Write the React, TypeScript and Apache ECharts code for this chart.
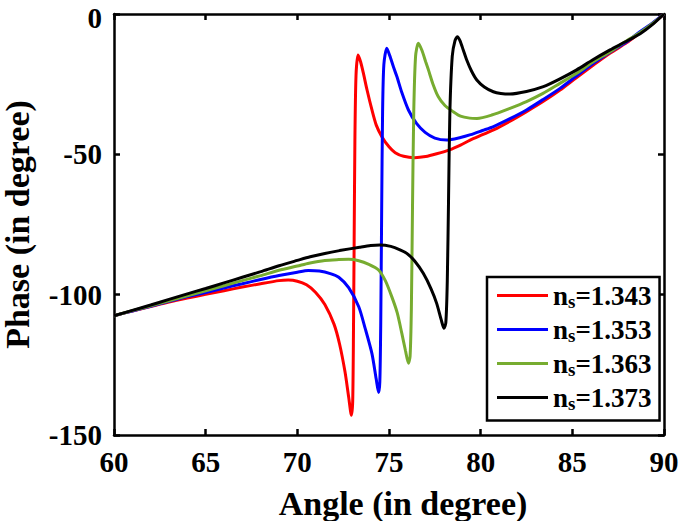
import React, { useEffect, useRef } from "react";
import * as echarts from "echarts";

const legendNames = ["ns=1.343", "ns=1.353", "ns=1.363", "ns=1.373"];
const legendValues = ["1.343", "1.353", "1.363", "1.373"];
const colors = ["#ff0000", "#0000ff", "#77ac30", "#000000"];

const xTicks = [60, 65, 70, 75, 80, 85, 90];
const yTicks = [-150, -100, -50, 0];

// [angle, phase]
const red343: [number, number][] = [
  [60, -107.5], [61, -105.8], [62, -104.2], [63, -102.6], [64, -101.2], [65, -99.9],
  [66, -98.6], [67, -97.3], [68, -96.1], [69, -95.0], [69.5, -94.8], [70, -95.2],
  [70.5, -96.5], [71, -99.2], [71.5, -103.5], [72, -110.5], [72.3, -117.5], [72.6, -127.5],
  [72.8, -136.5], [72.95, -143], [73.02, -138], [73.06, -115], [73.1, -80], [73.14, -45],
  [73.2, -22], [73.31, -14.6], [73.45, -17], [73.6, -21], [73.8, -27], [74.07, -34.2],
  [74.3, -39.5], [74.61, -43.7], [75, -47.3], [75.34, -49.4], [75.8, -50.7], [76.4, -51.2],
  [77, -50.8], [77.6, -49.8], [78.3, -48.4], [78.9, -46.7], [79.4, -45.0], [80.1, -43.0],
  [80.7, -41.3], [81.6, -38.2], [82.5, -34.8], [83.4, -31.2], [84.33, -27.1], [85.2, -22.8],
  [86.15, -18.2], [87.05, -14.0], [87.97, -10.2], [88.65, -6.9], [89.4, -3.3], [90, 0],
];

const blue353: [number, number][] = [
  [60, -107.5], [61, -105.8], [62, -104.1], [63, -102.4], [64, -100.7], [65, -99.2],
  [66, -97.6], [67, -96.1], [68, -94.6], [69, -93.2], [70, -92.0], [70.6, -91.4],
  [71.2, -91.6], [71.8, -92.5], [72.26, -93.8], [72.8, -97.5], [73.35, -104.3], [73.7, -112],
  [74.07, -121], [74.3, -130], [74.43, -134.9], [74.5, -131], [74.55, -110], [74.6, -70],
  [74.65, -35], [74.72, -18], [74.88, -12.2], [75.05, -15], [75.25, -19], [75.43, -22.3],
  [75.7, -28], [76.06, -34.2], [76.5, -39.0], [76.97, -42.2], [77.5, -44.2], [78.15, -44.9],
  [78.9, -44.0], [79.45, -43.0], [80.1, -41.5], [80.7, -40.1], [81.6, -37.3], [82.5, -34.2],
  [83.4, -30.5], [84.33, -26.5], [85.2, -22.2], [86.15, -17.6], [87.05, -13.6], [87.97, -9.9],
  [88.65, -6.5], [89.4, -3.1], [90, 0],
];

const green363: [number, number][] = [
  [60, -107.5], [61, -105.7], [62, -104.0], [63, -102.2], [64, -100.4], [65, -98.6],
  [66, -96.8], [67, -95.0], [68, -93.2], [69, -91.3], [70, -89.8], [70.63, -88.8],
  [71.5, -87.8], [72.26, -87.5], [72.8, -87.4], [73.35, -87.9], [73.9, -89.2], [74.43, -91.2],
  [74.8, -95], [75.15, -100.7], [75.45, -106.5], [75.7, -113.8], [75.9, -120], [76.06, -124.4],
  [76.15, -122], [76.22, -105], [76.28, -70], [76.35, -35], [76.45, -15], [76.6, -10.4],
  [76.8, -13], [77.0, -17], [77.15, -19.9], [77.4, -25], [77.69, -29.5], [78.05, -32.6],
  [78.5, -34.8], [78.9, -36.4], [79.4, -37.1], [79.8, -37.2], [80.6, -36], [81.6, -33.6],
  [82.5, -31.2], [83.4, -28.3], [84.3, -24.8], [85.24, -21.1], [86.1, -17.2], [87.06, -13.4],
  [87.85, -10.0], [88.7, -6.6], [89.4, -3.3], [90, 0],
];

const black373: [number, number][] = [
  [60, -107.5], [61, -105.6], [62, -103.7], [63, -101.7], [64, -99.7], [65, -97.8],
  [66, -95.8], [67, -93.8], [68, -91.8], [69, -89.7], [70, -87.8], [70.7, -86.5],
  [71.5, -85.3], [72.3, -84.3], [73.4, -83.1], [74, -82.5], [74.5, -82.3], [75.1, -82.8],
  [75.6, -84], [75.97, -85.3], [76.4, -88], [76.87, -92.4], [77.3, -98], [77.6, -103.1],
  [77.85, -109], [78.0, -112], [78.1, -110], [78.18, -95], [78.25, -65], [78.32, -35],
  [78.45, -15], [78.6, -9.5], [78.73, -8.1], [78.87, -9.5], [79.05, -12.8], [79.24, -16.4],
  [79.5, -20.3], [79.79, -23.5], [80.2, -26.0], [80.69, -27.7], [81.1, -28.3], [81.6, -28.5],
  [82.5, -27.6], [83.42, -25.9], [84.3, -23.2], [85.24, -19.9], [86.1, -16.4], [87.06, -12.8],
  [87.9, -9.9], [88.7, -7.0], [89.4, -3.6], [90, 0],
];

const seriesData = [red343, blue353, green363, black373];

const FONT = "'Liberation Serif', 'Times New Roman', serif";

export default function App() {
  const ref = useRef<HTMLDivElement>(null);
  useEffect(() => {
    if (!ref.current) return;
    const chart = echarts.init(ref.current, null, { renderer: "svg" });
    const axisLine = { show: true, onZero: false, lineStyle: { color: "#000", width: 2.5 } };
    const axisTick = { show: true, inside: true, length: 6, lineStyle: { color: "#000", width: 2.5 } };
    const labelStyle = { color: "#000", fontFamily: FONT, fontWeight: "bold" as const, fontSize: 29, lineHeight: 22 };
    chart.setOption({
      animation: false,
      backgroundColor: "#fff",
      grid: { left: 114, right: 21, top: 14, bottom: 86, containLabel: false, outerBoundsMode: "none" },
      xAxis: [
        {
          type: "value", min: xTicks[0], max: xTicks[xTicks.length - 1], interval: 5,
          position: "bottom", axisLine, axisTick, splitLine: { show: false },
          axisLabel: { ...labelStyle, margin: 16 },
          name: "Angle (in degree)", nameLocation: "middle", nameGap: 55,
          nameTextStyle: { color: "#000", fontFamily: FONT, fontWeight: "bold", fontSize: 34, lineHeight: 26, padding: [0, 0, 0, 28] },
        },
        {
          type: "value", min: xTicks[0], max: xTicks[xTicks.length - 1], interval: 5,
          position: "top", axisLine, axisTick, splitLine: { show: false }, axisLabel: { show: false },
        },
      ],
      yAxis: [
        {
          type: "value", min: yTicks[0], max: yTicks[yTicks.length - 1], interval: 50,
          position: "left", axisLine, axisTick, splitLine: { show: false },
          axisLabel: {
            ...labelStyle,
            margin: 12,
            formatter: (v: number) => (v === 0 ? "{z|0}" : String(v)),
            rich: {
              z: { fontFamily: FONT, fontWeight: "bold", fontSize: 29, lineHeight: 22, color: "#000", padding: [8, 0, 0, 0] },
            },
          },
          name: "Phase (in degree)", nameLocation: "middle", nameGap: 84,
          nameTextStyle: { color: "#000", fontFamily: FONT, fontWeight: "bold", fontSize: 34, lineHeight: 26 },
        },
        {
          type: "value", min: yTicks[0], max: yTicks[yTicks.length - 1], interval: 50,
          position: "right", axisLine, axisTick, splitLine: { show: false }, axisLabel: { show: false },
        },
      ],
      legend: {
        orient: "vertical",
        left: 487,
        top: 277,
        padding: [5, 8, 8, 10],
        borderColor: "#000",
        borderWidth: 2.5,
        backgroundColor: "#fff",
        itemWidth: 51,
        itemHeight: 3,
        itemGap: 5.5,
        icon: "rect",
        data: legendNames,
        formatter: (name: string) => {
          const i = legendNames.indexOf(name);
          return `{n|n}{s|s}{v|=${legendValues[i]}}`;
        },
        textStyle: {
          color: "#000",
          fontFamily: FONT,
          fontWeight: "bold",
          fontSize: 27,
          rich: {
            n: { fontFamily: FONT, fontWeight: "bold", fontSize: 27, lineHeight: 30, color: "#000" },
            s: { fontFamily: FONT, fontWeight: "bold", fontSize: 19, lineHeight: 8, verticalAlign: "bottom", color: "#000" },
            v: { fontFamily: FONT, fontWeight: "bold", fontSize: 27, lineHeight: 30, color: "#000" },
          },
        },
      },
      series: seriesData.map((d, i) => ({
        name: legendNames[i],
        type: "line",
        data: d,
        showSymbol: false,
        symbol: "none",
        smooth: 0.25,
        lineStyle: { color: colors[i], width: 3 },
        itemStyle: { color: colors[i] },
        xAxisIndex: 0,
        yAxisIndex: 0,
      })),
    });
    return () => chart.dispose();
  }, []);
  return <div ref={ref} style={{ position: "fixed", left: 0, top: 0, width: 685, height: 521 }} />;
}
